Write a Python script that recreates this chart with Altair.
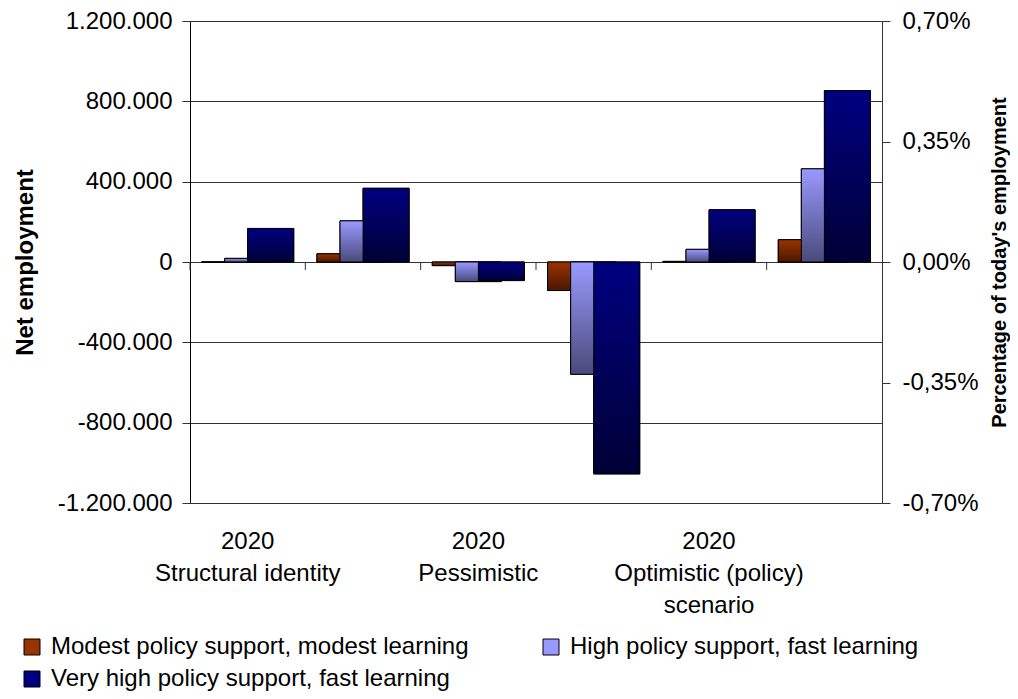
import json
import altair as alt
import pandas as pd

# ---------------- data ----------------
categories = [
    "2020 Structural identity",
    "2030 Structural identity",
    "2020 Pessimistic",
    "2030 Pessimistic",
    "2020 Optimistic (policy) scenario",
    "2030 Optimistic (policy) scenario",
]
category_labels = [
    ["2020", "Structural identity"],
    "",
    ["2020", "Pessimistic"],
    "",
    ["2020", "Optimistic (policy)", "scenario"],
    "",
]
series = [
    "Modest policy support, modest learning",
    "High policy support, fast learning",
    "Very high policy support, fast learning",
]
modest = [0, 41000, -18000, -142000, 3000, 111000]
high = [18000, 205000, -97500, -559000, 63000, 464000]
very_high = [167000, 367000, -92500, -1055000, 260000, 853000]

left_ticks = [-1200000, -800000, -400000, 0, 400000, 800000, 1200000]
right_ticks = [-0.007, -0.0035, 0.0, 0.0035, 0.007]

series_values = [modest, high, very_high]
rows = []
for s, vals in zip(series, series_values):
    for c, v in zip(categories, vals):
        rows.append({"category": c, "series": s, "value": v})
df = pd.DataFrame(rows)
cat_df = pd.DataFrame({"category": categories})

# ---------------- styling ----------------
FONT = "Liberation Sans"
solid_colors = ["#993300", "#9999ff", "#000080"]
gradients = [("#993300", "#4a1800"), ("#9999ff", "#4a4a7c"), ("#000080", "#000036")]


def grad(top, bottom):
    return alt.LinearGradient(
        gradient="linear", x1=0, x2=0, y1=0, y2=1,
        stops=[alt.GradientStop(color=top, offset=0),
               alt.GradientStop(color=bottom, offset=1)],
    )


label_map = "{" + ",".join(
    json.dumps(c) + ":" + json.dumps(l) for c, l in zip(categories, category_labels)
) + "}"

x_axis = alt.Axis(
    title=None, labelExpr=label_map + "[datum.value]", ticks=False, domain=False,
    grid=False, labelAngle=0, labelFontSize=24, labelColor="black",
    labelLineHeight=32, labelPadding=26, labelLimit=0, labelOverlap=False,
)
x_scale = alt.Scale(domain=categories, paddingInner=0, paddingOuter=0)
x_enc = alt.X("category:N", sort=categories, scale=x_scale, axis=x_axis)
xoff_enc = alt.XOffset("series:N", sort=series,
                       scale=alt.Scale(domain=series, paddingInner=0, paddingOuter=1))

y_axis = alt.Axis(
    title="Net employment", titleFontSize=24, titleFontWeight="bold", titleColor="black",
    titlePadding=20, values=left_ticks,
    labelExpr="(datum.value < 0 ? '-' : '') + replace(replace(format(abs(datum.value), ','), ',', '.'), ',', '.')",
    labelFontSize=24, labelColor="black", labelPadding=10, tickSize=8, tickColor="#333",
    domainColor="black", grid=True, gridColor="#333", gridWidth=1,
)
y_scale = alt.Scale(domain=[-1200000, 1200000], nice=False)
y_enc = alt.Y("value:Q", scale=y_scale, axis=y_axis)

BAR_W = 46

base_bars = alt.Chart(df).mark_bar(width=BAR_W, stroke="black", strokeWidth=1).encode(
    x=x_enc, xOffset=xoff_enc, y=y_enc,
    color=alt.Color(
        "series:N", sort=series,
        scale=alt.Scale(domain=series, range=solid_colors),
        legend=alt.Legend(
            title=None, orient="none", legendX=-170, legendY=614, columns=2,
            direction="horizontal",
            columnPadding=70, rowPadding=8, symbolType="square", symbolSize=256,
            symbolStrokeColor="black", symbolStrokeWidth=1, labelFontSize=24,
            labelColor="black", labelOffset=7, labelLimit=0,
        ),
    ),
)

grad_layers = []
for s, (top, bottom) in zip(series, gradients):
    grad_layers.append(
        alt.Chart(df).transform_filter(alt.datum.series == s)
        .mark_bar(width=BAR_W, fill=grad(top, bottom), stroke="black", strokeWidth=1)
        .encode(x=x_enc, xOffset=xoff_enc, y=y_enc)
    )

ticks = alt.Chart(cat_df).mark_rule(color="#333", strokeWidth=1, y2Offset=8).encode(
    x=alt.X("category:N", sort=categories, scale=x_scale, axis=x_axis, bandPosition=0),
    y=alt.YDatum(0, type="quantitative", scale=y_scale, axis=y_axis),
    y2=alt.Y2Datum(0),
)

left_part = alt.layer(base_bars, *grad_layers, ticks)

pct_layer = alt.Chart(cat_df).mark_point(opacity=0).encode(
    y=alt.YDatum(
        0, type="quantitative",
        scale=alt.Scale(domain=[-0.007, 0.007], nice=False),
        axis=alt.Axis(
            orient="right", title="Percentage of today's employment", titleFontSize=20,
            titleFontWeight="bold", titleColor="black", titleAngle=270, titlePadding=31,
            values=right_ticks,
            labelExpr="(datum.value < 0 ? '-' : '') + replace(format(abs(datum.value), '.2%'), '.', ',')",
            labelFontSize=24, labelColor="black", labelPadding=12, tickSize=8,
            tickColor="#333", domainColor="#333", grid=False,
        ),
    ),
)

chart = (
    alt.layer(left_part, pct_layer)
    .resolve_scale(y="independent")
    .properties(
        width=692, height=482,
        autosize=alt.AutoSizeParams(type="none"),
        padding={"left": 182, "top": 13, "right": 128, "bottom": 190},
        background="white",
    )
    .configure(font=FONT)
    .configure_view(stroke=None)
)

chart.save("out.html", embed_options={"renderer": "svg", "actions": False})
